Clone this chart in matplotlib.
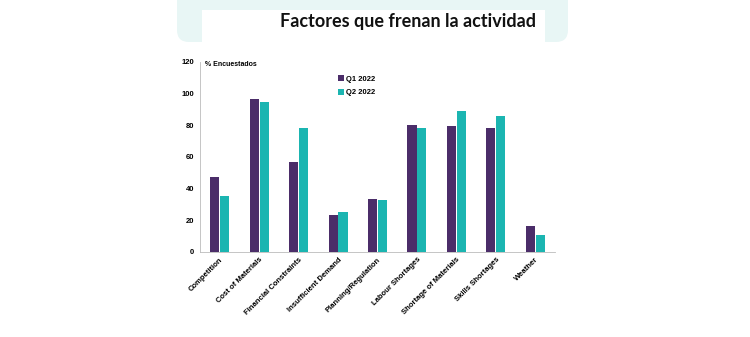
import matplotlib.pyplot as plt
from matplotlib.patches import FancyBboxPatch, Rectangle
import numpy as np

# datos
categorias = ["Competition", "Cost of Materials", "Financial Constraints",
              "Insufficient Demand", "Planning/Regulation", "Labour Shortages",
              "Shortage of Materials", "Skills Shortages", "Weather"]
q1_2022 = [47, 96.5, 56.5, 23.5, 33.5, 80, 79.5, 78, 16.5]
q2_2022 = [35, 94.5, 78, 25, 33, 78, 89, 86, 11]
series = ["Q1 2022", "Q2 2022"]
yticks = [0, 20, 40, 60, 80, 100, 120]

morado = "#4B2D69"
turquesa = "#1BB5B1"

W, H = 750, 337
fig = plt.figure(figsize=(7.5, 3.37), dpi=100)

# fondo en pixeles para la banda decorativa superior
bg = fig.add_axes([0, 0, 1, 1])
bg.set_xlim(0, W)
bg.set_ylim(H, 0)
bg.axis("off")
bg.add_patch(FancyBboxPatch((177, -20), 391, 62,
                            boxstyle="round,pad=0,rounding_size=12",
                            facecolor="#E8F6F5", edgecolor="none"))
bg.add_patch(Rectangle((202, 10), 343, 32, facecolor="white", edgecolor="none"))
bg.text(408, 22, "Factores que frenan la actividad", ha="center", va="center",
        fontsize=13, fontweight="bold", family="Lato", color="#111111")

ax = fig.add_axes([200 / W, 85 / H, 355 / W, (252 - 61.7) / H])
x = np.arange(len(categorias))
ancho = 0.23
ax.bar(x - 0.125, q1_2022, ancho, color=morado, label=series[0])
ax.bar(x + 0.125, q2_2022, ancho, color=turquesa, label=series[1])

ax.set_xlim(-0.5, len(categorias) - 0.5)
ax.set_ylim(0, 120)
ax.set_yticks(yticks)
ax.set_xticks(x)
ax.set_xticklabels(categorias, rotation=45, ha="right", rotation_mode="anchor",
                   fontsize=5.5, fontweight="bold", family="Liberation Sans")
for t in ax.get_yticklabels():
    t.set_fontsize(5.5)
    t.set_fontweight("bold")
    t.set_family("Liberation Sans")
ax.tick_params(axis="both", length=0, pad=4)
ax.tick_params(axis="x", pad=3)
for s in ["top", "right"]:
    ax.spines[s].set_visible(False)
ax.spines["left"].set_color("#BBBBBB")
ax.spines["bottom"].set_color("#BBBBBB")
ax.spines["left"].set_linewidth(0.6)
ax.spines["bottom"].set_linewidth(0.6)

ax.text(0.015, 0.985, "% Encuestados", transform=ax.transAxes, fontsize=5,
        fontweight="bold", family="Liberation Sans", va="center")
ax.legend(loc="upper left", bbox_to_anchor=(0.38, 0.945), frameon=False,
          prop={"family": "Liberation Sans", "weight": "bold", "size": 5.5},
          handlelength=0.8, handleheight=0.8, handletextpad=0.3,
          labelspacing=0.8, borderaxespad=0)

fig.savefig("out.png", dpi=100)
